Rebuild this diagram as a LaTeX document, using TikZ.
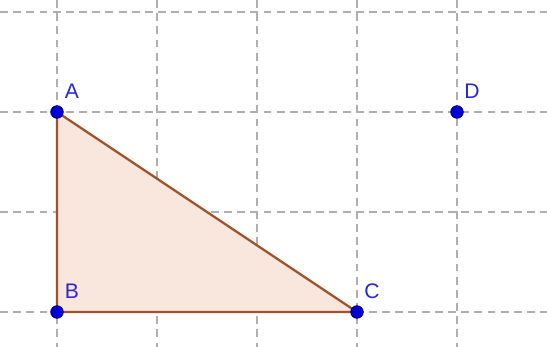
\documentclass[tikz,border=0pt]{standalone}
\usepackage{fontspec}
\setmainfont{Liberation Sans}
\definecolor{gridc}{RGB}{175,175,175}
\definecolor{edgec}{RGB}{160,82,45}
\definecolor{fillc}{RGB}{249,230,221}
\definecolor{dotc}{RGB}{0,0,215}
\definecolor{dotline}{RGB}{0,0,90}
\definecolor{labc}{RGB}{40,40,210}
\begin{document}
\begin{tikzpicture}[x=0.02cm,y=-0.02cm,
  gridline/.style={draw=gridc,line width=0.6pt,dash pattern=on 4.5pt off 3pt},
  tri/.style={draw=edgec,fill=fillc,line width=1.3pt,line join=round},
  dot/.style={circle,fill=dotc,draw=dotline,line width=0.4pt,inner sep=0pt,minimum size=7.2pt},
  lab/.style={text=labc,font=\fontsize{12}{14}\selectfont,inner sep=0pt}]
\useasboundingbox (0,0) rectangle (547,347);
\fill[white] (0,0) rectangle (547,347);
% grid
\foreach \x in {57,157,257,357,457} \draw[gridline] (\x,0) -- (\x,347);
\foreach \y in {12,112,212,312} \draw[gridline] (0,\y) -- (547,\y);
% points
\coordinate (A) at (57,112);
\coordinate (B) at (57,312);
\coordinate (C) at (357,312);
\coordinate (D) at (457,112);
\draw[tri] (A) -- (B) -- (C) -- cycle;
\foreach \p in {A,B,C,D} {
  \node[dot] (\p dot) at (\p) {};
  \node[lab] (\p lab) at ([shift={(15,-21)}]\p) {\p};
}
\end{tikzpicture}
\end{document}
